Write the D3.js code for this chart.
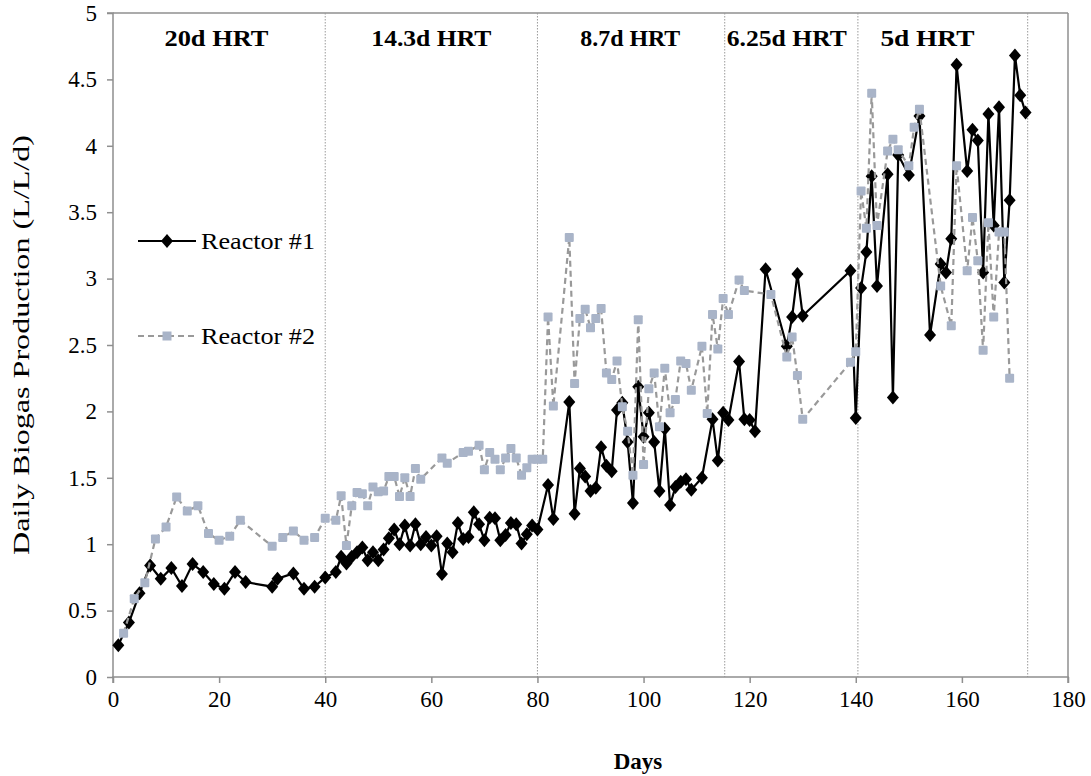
<!DOCTYPE html>
<html><head><meta charset="utf-8">
<script src="https://cdn.jsdelivr.net/npm/d3@7"></script>
<style>
body{margin:0;background:#fff}
svg text{font-family:"Liberation Serif","Tinos","Times New Roman",Times,serif !important;fill:#000}
</style>
</head><body>
<svg id="chart" width="1091" height="776"></svg>
<script>
// ---- data ----
const r1Days = [1,3,5,7,9,11,13,15,17,19,21,23,25,30,31,34,36,38,40,42,43,44,45,46,47,48,49,50,51,52,53,54,55,56,57,58,59,60,61,62,63,64,65,66,67,68,69,70,71,72,73,74,75,76,77,78,79,80,82,83,86,87,88,89,90,91,92,93,94,95,96,97,98,99,100,101,102,103,104,105,106,107,108,109,111,113,114,115,116,118,119,120,121,123,127,128,129,130,139,140,141,142,143,144,146,147,148,150,152,154,156,157,158,159,161,162,163,164,165,166,167,168,169,170,171,172];
const r1Values = [0.24,0.41,0.63,0.84,0.74,0.82,0.685,0.85,0.79,0.70,0.665,0.79,0.715,0.68,0.74,0.78,0.665,0.68,0.75,0.79,0.905,0.855,0.905,0.94,0.975,0.88,0.94,0.88,0.96,1.045,1.11,1.00,1.14,0.99,1.15,1.00,1.055,0.99,1.06,0.775,1.005,0.94,1.16,1.04,1.055,1.24,1.15,1.03,1.20,1.195,1.03,1.07,1.16,1.15,1.005,1.075,1.14,1.11,1.445,1.19,2.07,1.23,1.57,1.51,1.40,1.425,1.73,1.59,1.55,2.01,2.065,1.77,1.31,2.185,1.81,1.99,1.77,1.40,1.87,1.295,1.43,1.47,1.49,1.41,1.50,1.94,1.63,1.99,1.935,2.375,1.94,1.935,1.85,3.07,2.49,2.71,3.035,2.72,3.06,1.95,2.93,3.20,3.77,2.945,3.785,2.105,3.93,3.78,4.225,2.575,3.11,3.045,3.30,4.61,3.81,4.12,4.04,3.045,4.24,3.40,4.29,2.97,3.59,4.68,4.38,4.25];

const r2Days = [2,4,6,8,10,12,14,16,18,20,22,24,30,32,34,36,38,40,42,43,44,45,46,47,48,49,50,51,52,53,54,55,56,57,58,62,63,66,67,69,70,71,72,73,74,75,76,77,78,79,80,81,82,83,86,87,88,89,90,91,92,93,94,95,96,97,98,99,100,101,102,103,104,105,106,107,108,109,111,112,113,114,115,116,118,119,124,127,128,129,130,139,140,141,142,143,144,146,147,148,150,151,152,156,158,159,161,162,163,164,165,166,167,168,169];
const r2Values = [0.33,0.59,0.71,1.04,1.13,1.355,1.25,1.29,1.08,1.03,1.06,1.18,0.985,1.05,1.10,1.03,1.05,1.195,1.18,1.365,0.99,1.29,1.39,1.38,1.29,1.43,1.395,1.40,1.51,1.51,1.36,1.50,1.36,1.57,1.49,1.65,1.61,1.69,1.70,1.745,1.56,1.69,1.64,1.56,1.65,1.72,1.65,1.52,1.575,1.64,1.64,1.64,2.71,2.04,3.31,2.21,2.70,2.77,2.63,2.70,2.775,2.29,2.24,2.38,2.035,1.85,1.52,2.69,1.60,2.17,2.29,1.885,2.325,1.99,2.09,2.38,2.36,2.16,2.49,1.985,2.73,2.47,2.85,2.73,2.99,2.91,2.88,2.41,2.56,2.27,1.94,2.37,2.45,3.66,3.38,4.395,3.40,3.96,4.05,3.97,3.85,4.14,4.275,2.945,2.645,3.85,3.06,3.46,3.135,2.46,3.42,2.71,3.35,3.35,2.25];

const seriesNames = ["Reactor #1", "Reactor #2"];
const xTicks = [0,20,40,60,80,100,120,140,160,180];
const yTicks = [0,0.5,1,1.5,2,2.5,3,3.5,4,4.5,5];
const phaseBounds = [40, 80, 115.3, 140.4, 172.4];
const phaseLabels = ["20d HRT","14.3d HRT","8.7d HRT","6.25d HRT","5d HRT"];
const phaseLabelDays = [19.5, 60, 97.5, 127, 153.5];
const xTitle = "Days";
const yTitle = "Daily Biogas Production (L/L/d)";

// ---- chart ----
const svg = d3.select("#chart");
const x = d3.scaleLinear().domain([0,180]).range([113,1068]);
const y = d3.scaleLinear().domain([0,5]).range([677,13]);
const axisColor = "#8f8f8f";
const serif = '"Liberation Serif","Tinos","Times New Roman",Times,serif';

// frame (top & right)
svg.append("line").attr("x1",x(0)).attr("x2",x(180)).attr("y1",y(5)).attr("y2",y(5)).attr("stroke",axisColor).attr("stroke-width",1.5);
svg.append("line").attr("x1",x(180)).attr("x2",x(180)).attr("y1",y(5)).attr("y2",y(0)).attr("stroke",axisColor).attr("stroke-width",1.5);

// phase dividers
svg.selectAll("line.div").data(phaseBounds).join("line").attr("class","div")
  .attr("x1",d=>x(d)).attr("x2",d=>x(d)).attr("y1",y(5)).attr("y2",y(0))
  .attr("stroke","#9a9a9a").attr("stroke-width",1).attr("stroke-dasharray","1.5,1.5");

const phaseWidths = [104, 120, 100, 120, 94];
svg.selectAll("text.phase").data(phaseLabels).join("text").attr("class","phase")
  .attr("x",(d,i)=>x(phaseLabelDays[i])).attr("y",46)
  .attr("text-anchor","middle").attr("font-size",24).attr("font-weight","bold")
  .attr("textLength",(d,i)=>phaseWidths[i]).attr("lengthAdjust","spacingAndGlyphs")
  .style("font-family",serif).text(d=>d);

// axes
const yAxis = d3.axisLeft(y).tickValues(yTicks).tickSize(6).tickPadding(10).tickFormat(d3.format("~g"));
const gy = svg.append("g").attr("transform",`translate(${x(0)},0)`).call(yAxis);
const xAxis = d3.axisBottom(x).tickValues(xTicks).tickSize(6).tickPadding(8);
const gx = svg.append("g").attr("transform",`translate(0,${y(0)})`).call(xAxis);
[gx,gy].forEach(g=>{
  g.attr("font-family",null).attr("font-size",null);
  g.selectAll("path").attr("stroke",axisColor).attr("stroke-width",1.5);
  g.selectAll("line").attr("stroke",axisColor).attr("stroke-width",1.5);
  g.selectAll("text").style("font-family",serif).style("font-size","23px").attr("fill","#000");
});
gy.select(".domain").attr("d",`M-6,${y(5)}H0V${y(0)}`);
gx.select(".domain").attr("d",`M${x(0)},6V0H${x(180)}V6`);

// titles
svg.append("text").attr("x",638).attr("y",769).attr("text-anchor","middle")
  .attr("font-size",23).attr("font-weight","bold").style("font-family",serif).text(xTitle);
svg.append("text").attr("transform","translate(29,345) rotate(-90)").attr("text-anchor","middle")
  .attr("font-size",23).attr("textLength",420).attr("lengthAdjust","spacingAndGlyphs")
  .style("font-family",serif).text(yTitle);

// series
const r1 = r1Days.map((d,i)=>({day:d,val:r1Values[i]}));
const r2 = r2Days.map((d,i)=>({day:d,val:r2Values[i]}));
const line = d3.line().x(d=>x(d.day)).y(d=>y(d.val));
const diamond = "M0,-7L6,0L0,7L-6,0Z";
const sqColor = "#a9b4c8";

svg.append("path").datum(r1).attr("d",line).attr("fill","none").attr("stroke","#000").attr("stroke-width",2.2);
svg.selectAll("path.d1").data(r1).join("path").attr("class","d1")
  .attr("transform",d=>`translate(${x(d.day)},${y(d.val)})`).attr("d",diamond).attr("fill","#000");

svg.append("path").datum(r2).attr("d",line).attr("fill","none").attr("stroke","#999").attr("stroke-width",2.2).attr("stroke-dasharray","6,4");
svg.selectAll("rect.s2").data(r2).join("rect").attr("class","s2")
  .attr("x",d=>x(d.day)-4.5).attr("y",d=>y(d.val)-4.5).attr("width",9).attr("height",9).attr("rx",1)
  .attr("fill",sqColor);

// legend
const lg = svg.append("g");
lg.append("line").attr("x1",138).attr("x2",196).attr("y1",241).attr("y2",241).attr("stroke","#000").attr("stroke-width",2.2);
lg.append("path").attr("transform","translate(167,241)").attr("d",diamond).attr("fill","#000");
lg.append("text").attr("x",201).attr("y",249).attr("font-size",24).attr("textLength",114).attr("lengthAdjust","spacingAndGlyphs").style("font-family",serif).text(seriesNames[0]);
lg.append("line").attr("x1",138).attr("x2",196).attr("y1",336).attr("y2",336).attr("stroke","#999").attr("stroke-width",2.2).attr("stroke-dasharray","6,4");
lg.append("rect").attr("x",167-4.5).attr("y",336-4.5).attr("width",9).attr("height",9).attr("fill",sqColor);
lg.append("text").attr("x",201).attr("y",344).attr("font-size",24).attr("textLength",114).attr("lengthAdjust","spacingAndGlyphs").style("font-family",serif).text(seriesNames[1]);
</script>
</body></html>
